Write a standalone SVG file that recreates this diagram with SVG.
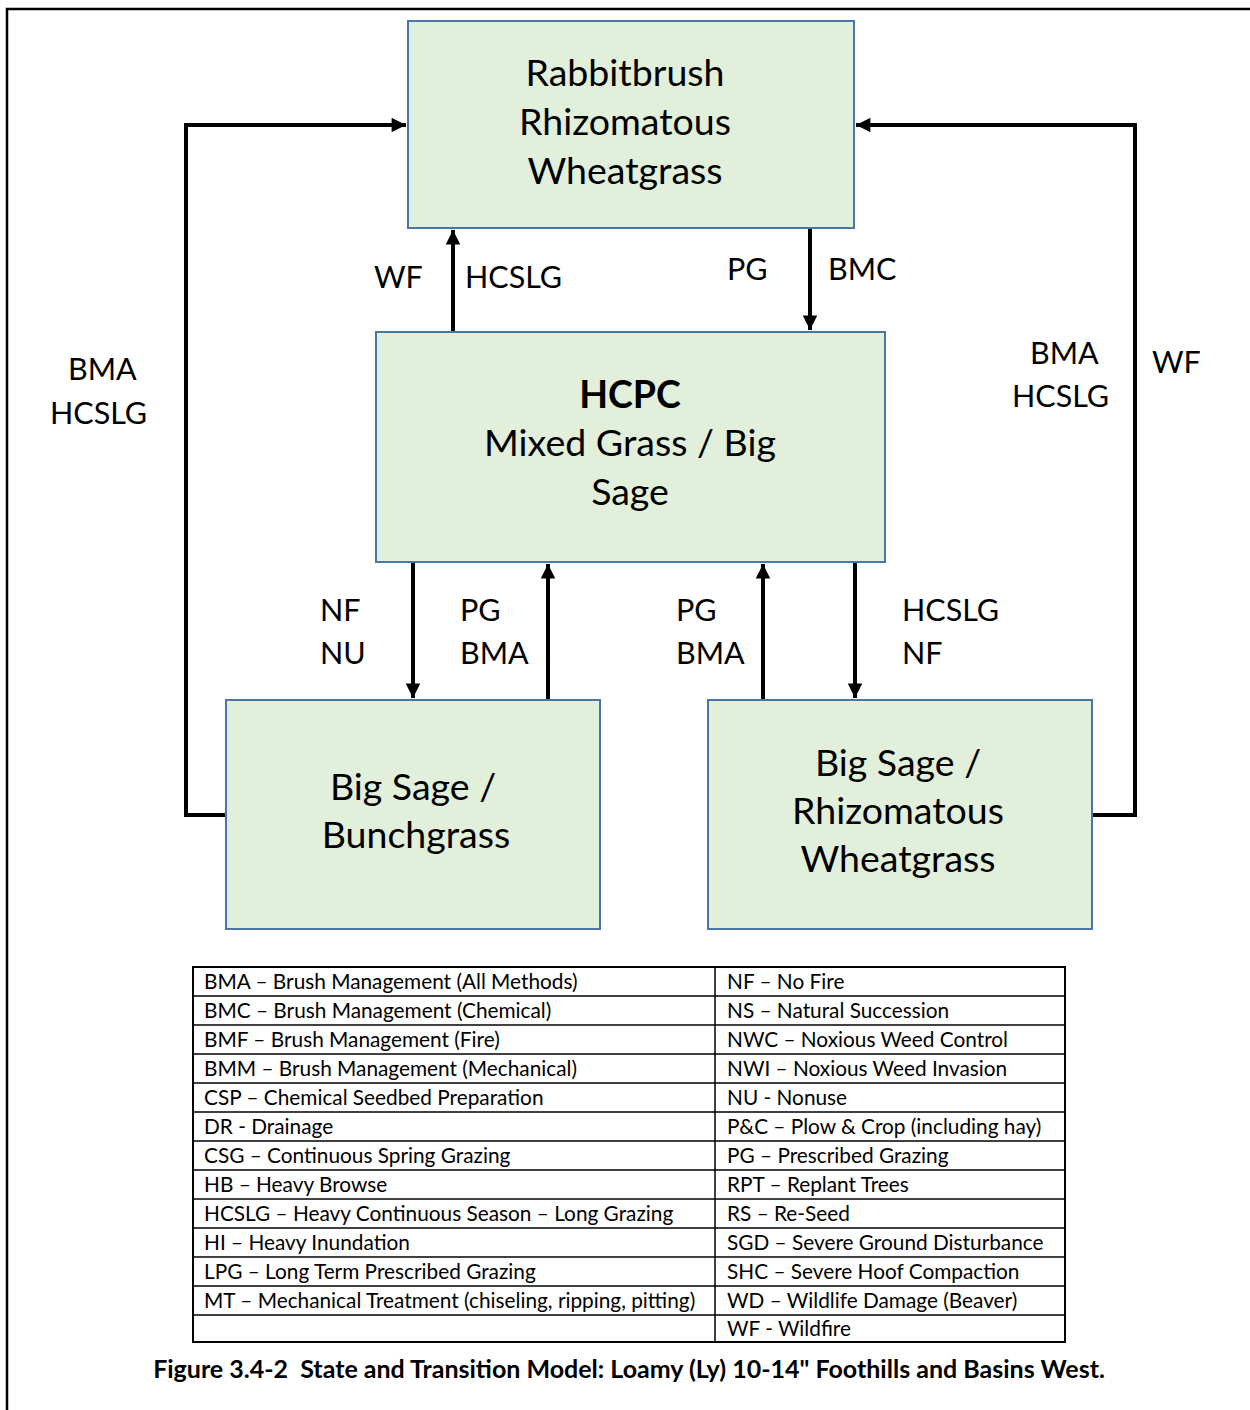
<svg xmlns="http://www.w3.org/2000/svg" width="1250" height="1410" viewBox="0 0 1250 1410">
  <style>
    .state { fill: #e2efda; stroke: #4a77a8; stroke-width: 2; }
    .st { font-family: Lato, "Open Sans", "Liberation Sans", sans-serif; font-size: 37.5px; fill: #000; text-anchor: middle; }
    .lbl { font-family: Lato, "Open Sans", "Liberation Sans", sans-serif; font-size: 30.5px; fill: #000; }
    .conn { fill: none; stroke: #000; stroke-width: 4; }
    .tbl { font-family: Lato, "Open Sans", "Liberation Sans", sans-serif; font-size: 20.8px; fill: #000; }
    .grid { stroke: #000; stroke-width: 1.5; }
    .cap { font-family: Lato, "Open Sans", "Liberation Sans", sans-serif; font-size: 25px; font-weight: bold; fill: #000; text-anchor: middle; }
  </style>
  <defs>
    <marker id="arrow" viewBox="0 0 10 10" refX="10" refY="5" markerWidth="3.8" markerHeight="3.6" orient="auto" markerUnits="strokeWidth">
      <path d="M0,0 L10,5 L0,10 z" fill="#000"/>
    </marker>
  </defs>

  <rect width="1250" height="1410" fill="#fff"/>
  <!-- page frame -->
  <path d="M7,1410 V9 H1250" fill="none" stroke="#000" stroke-width="2.5"/>

  <!-- transitions -->
  <g id="connectors">
    <path class="conn" d="M226,815 H186 V125 H406" marker-end="url(#arrow)"/>
    <path class="conn" d="M1092,815 H1135 V125 H856" marker-end="url(#arrow)"/>
    <path class="conn" d="M453,332 V230" marker-end="url(#arrow)"/>
    <path class="conn" d="M810,228 V330" marker-end="url(#arrow)"/>
    <path class="conn" d="M413,562 V698" marker-end="url(#arrow)"/>
    <path class="conn" d="M548,700 V564" marker-end="url(#arrow)"/>
    <path class="conn" d="M763,700 V564" marker-end="url(#arrow)"/>
    <path class="conn" d="M855,562 V698" marker-end="url(#arrow)"/>
  </g>

  <g id="transition-labels">
    <text class="lbl" x="374" y="288">WF</text>
    <text class="lbl" x="465" y="288">HCSLG</text>
    <text class="lbl" x="727" y="280">PG</text>
    <text class="lbl" x="828" y="280">BMC</text>
    <text class="lbl" x="68" y="380">BMA</text>
    <text class="lbl" x="50" y="424">HCSLG</text>
    <text class="lbl" x="1030" y="364">BMA</text>
    <text class="lbl" x="1012" y="407">HCSLG</text>
    <text class="lbl" x="1152" y="373">WF</text>
    <text class="lbl" x="320" y="621">NF</text>
    <text class="lbl" x="320" y="664">NU</text>
    <text class="lbl" x="460" y="621">PG</text>
    <text class="lbl" x="460" y="664">BMA</text>
    <text class="lbl" x="676" y="621">PG</text>
    <text class="lbl" x="676" y="664">BMA</text>
    <text class="lbl" x="902" y="621">HCSLG</text>
    <text class="lbl" x="902" y="664">NF</text>
  </g>

  <g id="rabbitbrush">
    <rect class="state" x="408" y="21" width="446" height="207"/>
    <text class="st" x="625" y="86">Rabbitbrush</text>
    <text class="st" x="625" y="135">Rhizomatous</text>
    <text class="st" x="625" y="184">Wheatgrass</text>
  </g>

  <g id="hcpc">
    <rect class="state" x="376" y="332" width="509" height="230"/>
    <text class="st" x="630" y="408" font-weight="bold">HCPC</text>
    <text class="st" x="630" y="456">Mixed Grass / Big</text>
    <text class="st" x="630" y="505">Sage</text>
  </g>

  <g id="big-sage-bunchgrass">
    <rect class="state" x="226" y="700" width="374" height="229"/>
    <text class="st" x="413" y="800">Big Sage /</text>
    <text class="st" x="416" y="848">Bunchgrass</text>
  </g>

  <g id="big-sage-rhizomatous">
    <rect class="state" x="708" y="700" width="384" height="229"/>
    <text class="st" x="898" y="776">Big Sage /</text>
    <text class="st" x="898" y="824">Rhizomatous</text>
    <text class="st" x="898" y="872">Wheatgrass</text>
  </g>

  <!-- abbreviation legend -->
  <g id="legend">
    <rect x="193" y="967" width="872" height="375" fill="none" stroke="#000" stroke-width="2"/>
    <line class="grid" x1="715" y1="967" x2="715" y2="1342"/>
    <line class="grid" x1="193" y1="996" x2="1065" y2="996"/>
    <line class="grid" x1="193" y1="1025" x2="1065" y2="1025"/>
    <line class="grid" x1="193" y1="1054" x2="1065" y2="1054"/>
    <line class="grid" x1="193" y1="1083" x2="1065" y2="1083"/>
    <line class="grid" x1="193" y1="1112" x2="1065" y2="1112"/>
    <line class="grid" x1="193" y1="1141" x2="1065" y2="1141"/>
    <line class="grid" x1="193" y1="1170" x2="1065" y2="1170"/>
    <line class="grid" x1="193" y1="1199" x2="1065" y2="1199"/>
    <line class="grid" x1="193" y1="1228" x2="1065" y2="1228"/>
    <line class="grid" x1="193" y1="1257" x2="1065" y2="1257"/>
    <line class="grid" x1="193" y1="1286" x2="1065" y2="1286"/>
    <line class="grid" x1="193" y1="1315" x2="1065" y2="1315"/>

    <g class="tbl">
      <text x="204" y="989">BMA – Brush Management (All Methods)</text>
      <text x="204" y="1018">BMC – Brush Management (Chemical)</text>
      <text x="204" y="1047">BMF – Brush Management (Fire)</text>
      <text x="204" y="1076">BMM – Brush Management (Mechanical)</text>
      <text x="204" y="1105">CSP – Chemical Seedbed Preparation</text>
      <text x="204" y="1134">DR - Drainage</text>
      <text x="204" y="1163">CSG – Continuous Spring Grazing</text>
      <text x="204" y="1192">HB – Heavy Browse</text>
      <text x="204" y="1221">HCSLG – Heavy Continuous Season – Long Grazing</text>
      <text x="204" y="1250">HI – Heavy Inundation</text>
      <text x="204" y="1279">LPG – Long Term Prescribed Grazing</text>
      <text x="204" y="1308">MT – Mechanical Treatment (chiseling, ripping, pitting)</text>

      <text x="727" y="989">NF – No Fire</text>
      <text x="727" y="1018">NS – Natural Succession</text>
      <text x="727" y="1047">NWC – Noxious Weed Control</text>
      <text x="727" y="1076">NWI – Noxious Weed Invasion</text>
      <text x="727" y="1105">NU - Nonuse</text>
      <text x="727" y="1134">P&amp;C – Plow &amp; Crop (including hay)</text>
      <text x="727" y="1163">PG – Prescribed Grazing</text>
      <text x="727" y="1192">RPT – Replant Trees</text>
      <text x="727" y="1221">RS – Re-Seed</text>
      <text x="727" y="1250">SGD – Severe Ground Disturbance</text>
      <text x="727" y="1279">SHC – Severe Hoof Compaction</text>
      <text x="727" y="1308">WD – Wildlife Damage (Beaver)</text>
      <text x="727" y="1336">WF - Wildfire</text>
    </g>
  </g>

  <text class="cap" x="629" y="1378">Figure 3.4-2&#160; State and Transition Model: Loamy (Ly) 10-14" Foothills and Basins West.</text>
</svg>
